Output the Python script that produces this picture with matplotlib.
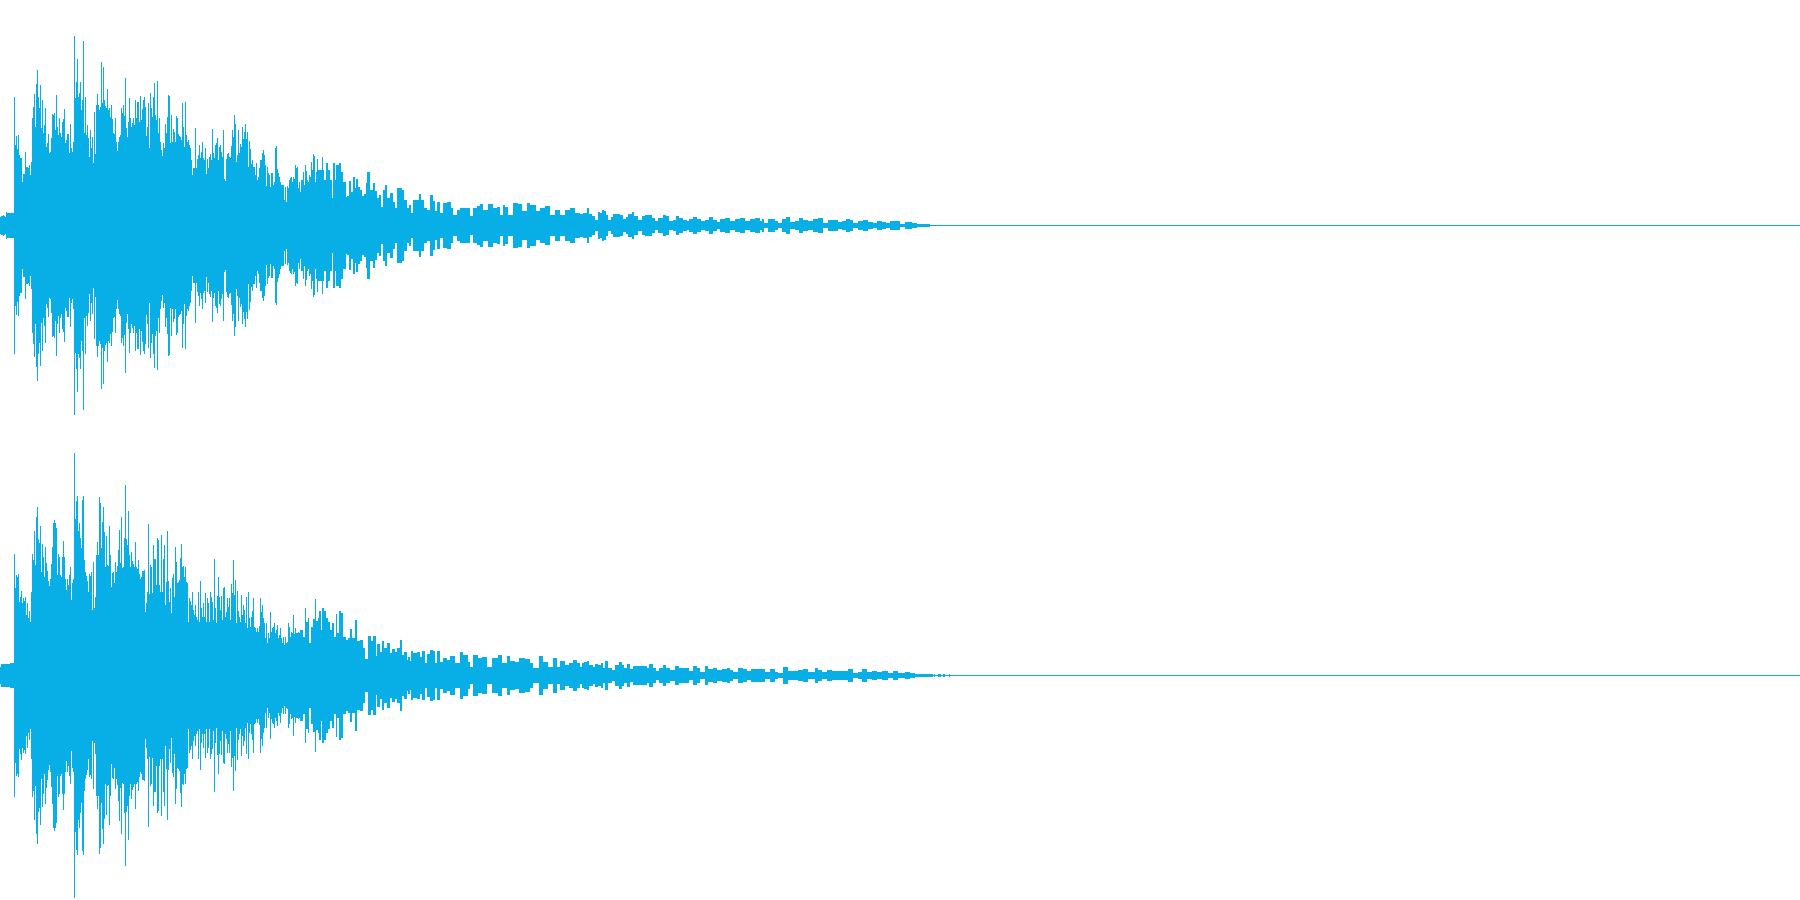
import numpy as np
import matplotlib
matplotlib.use("Agg")
import matplotlib.pyplot as plt

WAVE_COLOR = "#08AEE6"

# Peak amplitude of each channel (the wave is mirror-symmetric).
# Time units: 0..1800; amplitude units: +/-225 per channel.
left_head = [8,9,9,10,9,8,13,12,12,12,12,12,12,12,
128,80,89,76,90,70,67,67,43,51,51,73,58,58,57,60,50,63,107,118,131,98,141,155,128,117,
140,97,125,92,100,117,78,82,91,72,73,87,111,110,112,95,130,98,90,107,92,88,103,106,116,82,85,91,91,72,
101,77,73,83,189,127,143,166,128,132,143,115,125,184,92,128,90,100,87,68,95,77,88,62,113,71,120,131,120,115,
118,163,122,158,125,119,117,136,115,117,108,120,106,92,91,107,83,74,83,88,90,117,112,120,109,147,97,88,103,127,
107,98,102,107,100,125,107,123,123,103,129,105,116,125,128,118,89,98,122,77,132,117,108,128,142,110,105,144,92,107,
83,75,69,82,77,101,92,108,130,129,82,110,83,96,93,83,109,107,91,89,88,85,122,98,78,123,90,83,85,80,
77,65,50,57,57,97,57,66,70,80,67,73,83,67,65,77,51,66,57,68,71,65,96,72,67,80,82,87,65,78,
80,73,68,95,46,44,66,71,72,68,67,79,95,88,110,101,63,70,95,72,81,78,98,86,93,101,86,93,58,84,
76,61,65,58,58,50,62,45,48,57,65,65,72,75,70,60,39,58,52,50,38,52,52,40,43,77,79,56,52,48,
43,40,40,40,25,38,23,39,37,45,47,48,43,48,46,60,57,58,37,43]
left_tail_time = [300,301,303,304,305,306,307,308,309,310,311,312,313,314,315,316,317,318,319,320,322,323,324,326,328,330,332,333,335,336,339,341,343,346,347,349,351,353,355,356,358,360,362,364,366,367,370,373,375,377,379,381,383,385,387,390,393,395,397,402,404,407,409,411,413,415,417,419,421,424,427,430,433,435,437,440,443,447,451,453,457,460,465,470,473,477,480,483,488,493,497,500,503,505,508,513,518,522,527,530,536,540,545,550,555,560,565,570,575,
580,583,587,589,592,595,598,600,602,604,606,608,611,613,617,620,623,626,628,632,634,638,642,645,648,652,655,658,663,666,669,673,676,679,683,687,689,693,697,701,705,709,713,717,720,725,730,735,740,745,750,755,760,762,764,768,772,775,778,782,786,790,795,799,803,808,813,818,823,828,833,838,842,846,850,853,858,863,868,873,877,882,886,890,895,900,905,908,912,917,922,930,1800]
left_tail_amp = [33,45,53,40,60,54,45,43,50,48,63,55,71,69,43,53,66,55,55,55,68,55,45,62,55,45,27,62,45,60,62,53,43,28,29,44,33,48,37,46,38,35,29,31,42,53,35,42,34,27,30,18,35,40,27,32,23,17,37,35,25,17,20,12,25,25,25,31,25,17,15,30,24,14,23,12,22,23,17,10,15,17,17,9,17,19,21,15,21,17,18,10,20,18,10,22,21,14,22,20,14,17,19,10,15,10,15,17,12,
11,12,17,11,9,5,13,12,15,14,10,5,8,11,11,10,6,8,11,13,9,5,9,10,10,7,4,7,10,9,4,5,9,7,5,4,6,8,6,4,5,8,5,3,6,7,4,6,7,4,6,7,4,6,2,6,6,4,2,6,8,3,4,7,5,4,6,7,2,5,5,3,4,6,5,2,4,5,3,2,4,3,2,4,4,1,3,3,2,1,1.5,0.4,0.4]

right_head = [8,11,11,11,11,11,11,11,11,11,12,12,12,12,
121,87,100,98,101,73,78,84,72,77,74,78,60,72,57,64,53,83,121,115,144,110,158,168,136,132,
149,103,131,118,98,128,112,104,94,89,96,111,128,152,155,152,147,100,121,118,100,98,118,134,118,96,85,96,90,100,
108,75,92,96,222,156,174,179,144,152,137,127,175,179,115,103,99,94,83,101,99,103,65,113,67,78,120,133,120,178,
172,127,153,168,143,108,139,110,109,149,120,88,102,103,92,113,103,109,125,145,112,158,107,108,137,190,136,130,164,120,
108,123,114,111,108,133,108,106,115,101,96,98,104,104,105,63,72,83,151,81,110,108,82,130,116,116,90,137,135,90,
83,140,83,116,130,70,93,144,94,73,87,62,97,101,78,128,113,92,93,95,117,131,108,109,98,108,93,92,53,77,
74,70,83,65,60,70,58,55,83,53,94,67,58,72,58,82,53,77,72,53,83,78,73,55,116,67,52,79,98,78,
65,79,55,87,88,58,63,77,68,77,55,91,82,115,80,95,52,84,64,58,53,80,60,70,65,52,78,47,83,57,
48,58,64,77,48,47,43,47,43,49,77,63,70,57,52,37,52,32,42,37,63,43,47,48,52,42,45,50,37,40,
47,37,32,38,30,38,32,33,52,48,38,43,42,60,41,47,42,42,43,42]
right_tail_time = [300,303,305,306,308,309,311,313,315,316,318,319,321,322,324,326,328,330,332,334,336,337,339,341,343,346,348,350,352,355,357,360,363,365,368,371,373,376,377,380,382,384,387,390,392,395,397,400,402,404,407,408,410,411,413,417,420,422,425,427,430,433,435,437,440,443,447,450,455,460,463,468,470,473,478,482,487,492,498,502,507,510,515,519,525,530,533,539,543,548,553,557,560,565,569,573,577,
580,582,584,587,589,593,595,598,601,603,605,608,612,615,619,622,624,627,630,633,638,643,647,649,653,656,659,663,666,670,675,679,683,687,689,693,697,700,705,708,713,717,722,727,730,733,738,743,747,751,755,760,765,770,775,778,783,788,793,798,803,808,815,818,822,827,832,837,843,848,853,858,862,867,872,877,882,888,893,898,905,910,915,932,933,934,935,938,941,943,945,949,950,1800]
right_tail_amp = [45,38,67,53,57,32,48,56,76,54,57,64,45,67,64,57,53,45,52,38,61,42,64,62,38,35,37,46,37,55,34,35,27,16,39,34,39,19,31,23,34,27,32,22,26,23,27,35,20,23,15,18,14,24,22,23,18,24,12,21,25,24,12,24,13,17,15,19,12,23,20,13,8,20,17,18,8,17,20,12,19,14,13,17,16,12,7,19,13,8,17,8,14,10,12,15,12,
8,12,13,14,10,8,11,10,12,7,14,7,5,10,13,10,7,11,6,9,9,9,7,11,7,4,7,10,7,5,9,7,7,7,4,9,7,3,9,6,7,5,6,7,5,3,7,6,4,6,6,6,3,6,3,2,8,4,4,5,6,3,7,5,3,5,4,4,4,6,2,3,6,3,4,3,4,2,4,2,3,2,1.5,1.5,0.4,1.5,0.4,1.5,0.4,1.5,0.4,1.5,0.4,0.4]

channels = [
    (left_head, left_tail_time, left_tail_amp, [0, 0.5, 1, 0.5]),
    (right_head, right_tail_time, right_tail_amp, [0, 0, 1, 0.5]),
]

fig = plt.figure(figsize=(18, 9), dpi=100, facecolor="white")
for head, tail_time, tail_amp, rect in channels:
    assert len(tail_time) == len(tail_amp), (len(tail_time), len(tail_amp))
    time = np.concatenate([np.arange(len(head)), tail_time])
    amp = np.concatenate([head, tail_amp])
    ax = fig.add_axes(rect)
    ax.fill_between(time, -amp, amp, step="post", color=WAVE_COLOR, linewidth=0, antialiased=False)
    ax.set_xlim(0, 1800)
    ax.set_ylim(-224.5, 225.5)
    ax.axis("off")

fig.savefig("out.png", dpi=100, facecolor="white")
